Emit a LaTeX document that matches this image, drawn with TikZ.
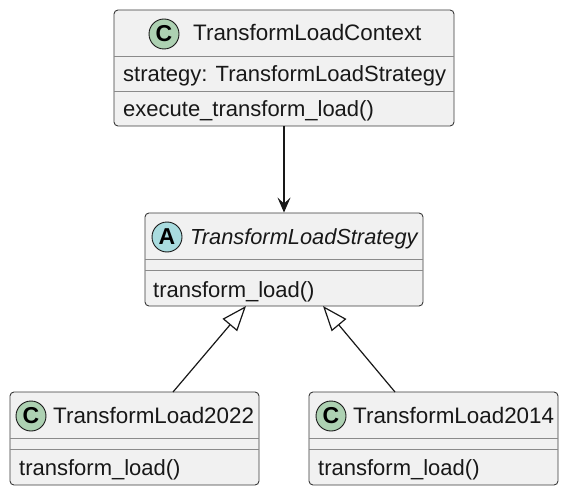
\documentclass[tikz,border=0pt]{standalone}
\usepackage{fontspec}
\setmainfont{Liberation Sans}
\usetikzlibrary{arrows.meta}
\definecolor{boxfill}{HTML}{F1F1F1}
\definecolor{boxline}{HTML}{3A3A3A}
\definecolor{sepline}{HTML}{8A8A8A}
\definecolor{cfill}{HTML}{ADD1B2}
\definecolor{afill}{HTML}{A9DCDF}
\definecolor{ink}{HTML}{181818}
\tikzset{
  umlbox/.style={draw=boxline, fill=boxfill, line width=0.9pt, rounded corners=4pt, inner sep=0pt, rectangle},
  sepl/.style={draw=sepline, line width=0.9pt},
  badge/.style={circle, draw=ink, line width=0.9pt, minimum size=30pt, inner sep=0pt, font=\fontsize{23}{23}\selectfont\bfseries},
  cbadge/.style={badge, fill=cfill},
  abadge/.style={badge, fill=afill},
  title/.style={anchor=base west, inner sep=0pt, font=\fontsize{22.4}{26}\selectfont, text=ink},
  member/.style={anchor=base west, inner sep=0pt, font=\fontsize{22}{26}\selectfont, text=ink},
  assoc/.style={draw=ink, line width=1.2pt, -{Stealth[length=15pt, width=13pt, inset=6pt]}},
  inherit/.style={draw=ink, line width=1.2pt, -{Triangle[open, length=25pt, width=19pt, fill=white]}},
}
\begin{document}
\begin{tikzpicture}[x=1pt, y=-1pt]
\useasboundingbox[fill=white] (0,0) rectangle (569,494);

% TransformLoadContext
\node[umlbox, minimum width=340pt, minimum height=116pt] (ctx) at (284,68) {};
\draw[sepl] (114,56) -- (454,56);
\draw[sepl] (114,91) -- (454,91);
\node[cbadge] (ctxc) at (164,34) {C};
\node[title] (ctxt) at (193,41) {TransformLoadContext};
\node[member] (ctxa) at (123,82) {strategy: TransformLoadStrategy};
\node[member] (ctxm) at (123,117) {execute\_transform\_load()};

% TransformLoadStrategy
\node[umlbox, minimum width=278pt, minimum height=93pt] (strat) at (284,259.5) {};
\draw[sepl] (145,259) -- (423,259);
\draw[sepl] (145,270) -- (423,270);
\node[abadge] (stratc) at (167,237) {A};
\node[title, font=\fontsize{21.8}{26}\selectfont\itshape] (stratt) at (190,244) {TransformLoadStrategy};
\node[member] (stratm) at (153,297) {transform\_load()};

% TransformLoad2022
\node[umlbox, minimum width=249pt, minimum height=93pt] (tl22) at (134.5,438.5) {};
\draw[sepl] (10,438) -- (259,438);
\draw[sepl] (10,449) -- (259,449);
\node[cbadge] (tl22c) at (31,416) {C};
\node[title] (tl22t) at (53,423) {TransformLoad2022};
\node[member] (tl22m) at (19,475) {transform\_load()};

% TransformLoad2014
\node[umlbox, minimum width=249pt, minimum height=93pt] (tl14) at (433.5,438.5) {};
\draw[sepl] (309,438) -- (558,438);
\draw[sepl] (309,449) -- (558,449);
\node[cbadge] (tl14c) at (331,416) {C};
\node[title] (tl14t) at (353,423) {TransformLoad2014};
\node[member] (tl14m) at (318,475) {transform\_load()};

% connectors
\draw[assoc] (ctx.south) -- (strat.north);
\coordinate (s22) at (246,306);
\coordinate (b22) at (173,392);
\coordinate (s14) at (323,306);
\coordinate (b14) at (395,392);
\draw[inherit] (b22) -- (s22);
\draw[inherit] (b14) -- (s14);
\end{tikzpicture}
\end{document}
